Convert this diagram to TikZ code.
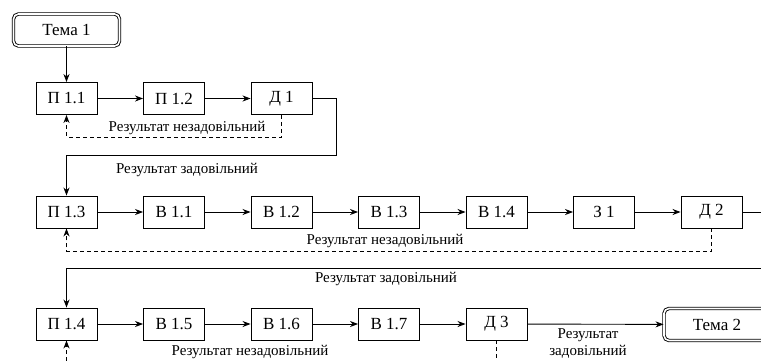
\documentclass[tikz,border=0pt]{standalone}
\usepackage{fontspec}
\setmainfont{Liberation Serif}
\newfontfamily\tnr{Liberation Serif}
\usetikzlibrary{arrows.meta}
\newcommand{\boxfont}{\tnr\fontsize{17}{20}\selectfont}
\newcommand{\labfont}{\tnr\fontsize{15}{17}\selectfont}

\begin{document}
\begin{tikzpicture}[x=1pt, y=-1pt, line width=0.9pt,
        blok/.style={draw, minimum width=61pt, minimum height=32pt, inner sep=0pt, font=\boxfont},
        tema/.style={draw, double, double distance=1.6pt, rounded corners=5pt, minimum width=106pt, minimum height=32pt, inner sep=0pt, font=\boxfont},
        lab/.style={font=\labfont, inner sep=0pt},
        ->/.style={-{Stealth[length=8pt, width=6pt, inset=2.5pt]}},
        back/.style={dashed, dash pattern=on 4pt off 3pt}]
        \clip (0, 0) rectangle (761, 360);

        \node[tema] (t1) at (66.5, 30) {Тема 1};
        \node[blok] (p11) at (66.5, 98.5) {П 1.1};
        \node[blok] (p12) at (174, 98.5) {П 1.2};
        \node[blok] (d1) at (281.5, 98.5) {Д 1};

        \node[blok] (p13) at (66.5, 212) {П 1.3};
        \node[blok] (v11) at (174, 212) {В 1.1};
        \node[blok] (v12) at (281.5, 212) {В 1.2};
        \node[blok] (v13) at (389, 212) {В 1.3};
        \node[blok] (v14) at (496.5, 212) {В 1.4};
        \node[blok] (z1) at (604, 212) {З 1};
        \node[blok] (d2) at (711.5, 212) {Д 2};

        \node[blok] (p14) at (66.5, 324) {П 1.4};
        \node[blok] (v15) at (174, 324) {В 1.5};
        \node[blok] (v16) at (281.5, 324) {В 1.6};
        \node[blok] (v17) at (389, 324) {В 1.7};
        \node[blok] (d3) at (496.5, 324) {Д 3};
        \node[tema] (t2) at (717, 324.5) {Тема 2};

        \coordinate (k1) at (336, 155);
        \coordinate (k2) at (775, 212);
        \coordinate (k3) at (775, 268);
        \coordinate (k4) at (66.5, 375);

        \draw[->] (t1) -- (p11);
        \draw[->] (p11) -- (p12);
        \draw[->] (p12) -- (d1);
        \draw[back, ->] (d1.south) -- ++(0, 22) -| (p11.south);
        \draw[->] (d1.east) -| (k1) -| (p13.north);

        \draw[->] (p13) -- (v11);
        \draw[->] (v11) -- (v12);
        \draw[->] (v12) -- (v13);
        \draw[->] (v13) -- (v14);
        \draw[->] (v14) -- (z1);
        \draw[->] (z1) -- (d2);
        \draw (d2) -- (k2);
        \draw[back, ->] (d2.south) -- ++(0, 23) -| (p13.south);
        \draw[->] (k3) -| (p14.north);

        \draw[->] (p14) -- (v15);
        \draw[->] (v15) -- (v16);
        \draw[->] (v16) -- (v17);
        \draw[->] (v17) -- (d3);
        \draw[->] (d3) -- (t2);
        \draw[back] (d3.south) -- ++(0, 40);
        \draw[back, ->] (k4) -- (p14.south);

        \node[lab] (n1) at (187, 128) {Результат незадовільний};
        \node[lab] (u1) at (187, 170) {Результат задовільний};
        \node[lab] (n2) at (385, 241) {Результат незадовільний};
        \node[lab] (u2) at (386, 279) {Результат задовільний};
        \node[lab] (n3) at (250, 352) {Результат незадовільний};
        \node[lab, align=center] (u3) at (588, 344) {Результат\\задовільний};
    \end{tikzpicture}
\end{document}
